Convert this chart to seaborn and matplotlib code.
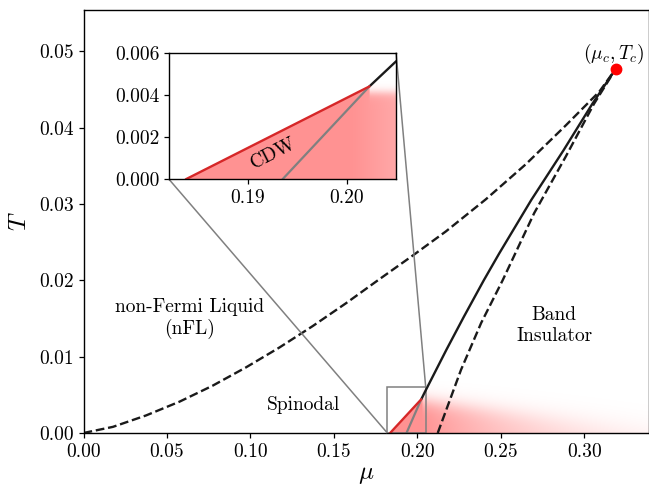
import numpy as np
import matplotlib
matplotlib.use('Agg')
import matplotlib.pyplot as plt
import seaborn as sns
from mpl_toolkits.axes_grid1.inset_locator import mark_inset

# crossover nFL -> band insulator (upper dashed)
mu_nfl = [0.0, 0.0176, 0.0375, 0.0575, 0.0774, 0.0974, 0.1174, 0.1373, 0.1573,
          0.177, 0.197, 0.2171, 0.241, 0.265, 0.289, 0.309, 0.3189]
T_nfl = [0.0, 0.0008, 0.0023, 0.0041, 0.0062, 0.0086, 0.0112, 0.0140, 0.0170,
         0.0201, 0.0232, 0.0264, 0.0306, 0.0352, 0.0403, 0.0447, 0.0477]

# first order line (solid)
mu_first = [0.2023, 0.2048, 0.2174, 0.2278, 0.2398, 0.2490, 0.2682, 0.2875, 0.3048, 0.3189]
T_first = [0.0044, 0.0055, 0.0109, 0.0152, 0.0200, 0.0235, 0.0305, 0.0370, 0.0431, 0.0477]

# spinodal on insulating side (lower dashed)
mu_spin = [0.2122, 0.2262, 0.2382, 0.2511, 0.2700, 0.2889, 0.3058, 0.3189]
T_spin = [0.0, 0.0083, 0.0144, 0.0200, 0.0288, 0.0362, 0.0431, 0.0477]

# CDW boundary (red) and metallic spinodal (grey)
mu_cdw = [0.1837, 0.2023]
T_cdw = [0.0, 0.0044]
mu_spin2 = [0.1935, 0.2023]
T_spin2 = [0.0, 0.0044]

mu_c, T_c = 0.3189, 0.0477

xmax, ymax = 0.3385, 0.0554
zoom_x = (0.182, 0.205)
zoom_y = (0.0, 0.006)

sns.set_theme(style='ticks')
plt.rcParams.update({
    'font.family': ['cmr10', 'DejaVu Serif'],
    'mathtext.fontset': 'cm',
    'axes.formatter.use_mathtext': True,
    'axes.unicode_minus': False,
    'text.color': 'black',
    'axes.labelcolor': 'black',
    'axes.edgecolor': 'black',
    'axes.linewidth': 1.0,
    'xtick.color': 'black',
    'ytick.color': 'black',
    'xtick.major.size': 3.5,
    'ytick.major.size': 3.5,
    'xtick.major.width': 0.9,
    'ytick.major.width': 0.9,
    'xtick.labelsize': 14,
    'ytick.labelsize': 14,
})


def cdw_alpha(M, TT, a0, inset=False):
    # red shading: solid under the CDW line, fading out on the insulating side
    mu0, t0 = mu_cdw[-1], T_cdw[-1]
    t_red = np.interp(M, mu_cdw, T_cdw)
    A = np.where((M <= mu0) & (M >= mu_cdw[0]) & (TT <= t_red), a0, 0.0)
    d = np.clip(M - mu0, 0, None)
    if inset:
        right = a0 / (1 + np.exp((TT - (t0 - 0.0003)) / 0.00012))
    else:
        top = t0 - 0.0002 - 0.03 * d
        s = 0.0006 + 0.004 * d
        right = a0 * np.exp(-d / 0.085) / (1 + np.exp((TT - top) / s))
    A = np.where(M > mu0, right, A)
    if inset:
        A = A * (1 - 0.2 * np.clip((M - 0.2005) / 0.0045, 0, 1))
    rgba = np.zeros(M.shape + (4,))
    rgba[..., 0] = 1.0
    rgba[..., 3] = A
    return rgba


fig = plt.figure(figsize=(6.49, 4.86), dpi=100)
ax = fig.add_axes([0.1287, 0.1091, 0.8706, 0.8704])

M, TT = np.meshgrid(np.linspace(0, xmax, 1000), np.linspace(0, ymax, 600))
ax.imshow(cdw_alpha(M, TT, 0.43), extent=[0, xmax, 0, ymax],
          origin='lower', aspect='auto', interpolation='bilinear', zorder=0)

sns.lineplot(x=mu_nfl, y=T_nfl, ax=ax, color='k', linestyle='--', lw=1.7,
             sort=False, estimator=None)
sns.lineplot(x=mu_first, y=T_first, ax=ax, color='k', lw=1.7, sort=False, estimator=None)
sns.lineplot(x=mu_spin, y=T_spin, ax=ax, color='k', linestyle='--', lw=1.7,
             sort=False, estimator=None)
sns.lineplot(x=mu_spin2, y=T_spin2, ax=ax, color='grey', lw=1.6, sort=False, estimator=None)
sns.lineplot(x=mu_cdw, y=T_cdw, ax=ax, color='#d62728', lw=1.7, sort=False, estimator=None)
ax.plot(mu_c, T_c, 'o', color='red', ms=7.5, zorder=5)

ax.text(0.0635, 0.0150, 'non-Fermi Liquid\n(nFL)', ha='center', va='center', fontsize=14)
ax.text(0.132, 0.0037, 'Spinodal', ha='center', va='center', fontsize=14)
ax.text(0.282, 0.0141, 'Band\nInsulator', ha='center', va='center', fontsize=14)
ax.text(0.3174, 0.0496, r'$(\mu_c, T_c)$', ha='center', va='center', fontsize=14)

ax.set_xlim(0, xmax)
ax.set_ylim(0, ymax)
ax.set_xticks([0.0, 0.05, 0.10, 0.15, 0.20, 0.25, 0.30])
ax.set_yticks([0.0, 0.01, 0.02, 0.03, 0.04, 0.05])
ax.xaxis.set_major_formatter(matplotlib.ticker.FormatStrFormatter('%.2f'))
ax.yaxis.set_major_formatter(matplotlib.ticker.FormatStrFormatter('%.2f'))
ax.set_xlabel(r'$\mu$', fontsize=18, labelpad=2)
ax.set_ylabel(r'$T$', fontsize=18, labelpad=6)

# zoomed inset around the CDW dome
axins = fig.add_axes([0.2604, 0.6311, 0.3498, 0.2605])
Mi, Ti = np.meshgrid(np.linspace(*zoom_x, 300), np.linspace(*zoom_y, 200))
axins.imshow(cdw_alpha(Mi, Ti, 0.43, inset=True),
             extent=[*zoom_x, *zoom_y], origin='lower', aspect='auto',
             interpolation='bilinear', interpolation_stage='rgba', zorder=0)
sns.lineplot(x=mu_first, y=T_first, ax=axins, color='k', lw=1.7, sort=False, estimator=None)
sns.lineplot(x=mu_spin2, y=T_spin2, ax=axins, color='grey', lw=1.6, sort=False, estimator=None)
sns.lineplot(x=mu_cdw, y=T_cdw, ax=axins, color='#d62728', lw=1.7, sort=False, estimator=None)
axins.text(0.1926, 0.0012, 'CDW', ha='center', va='center', rotation=27,
           rotation_mode='anchor', fontsize=14)
axins.set_xlim(*zoom_x)
axins.set_ylim(*zoom_y)
axins.set_xticks([0.19, 0.20])
axins.set_yticks([0.0, 0.002, 0.004, 0.006])
axins.xaxis.set_major_formatter(matplotlib.ticker.FormatStrFormatter('%.2f'))
axins.yaxis.set_major_formatter(matplotlib.ticker.FormatStrFormatter('%.3f'))

mark_inset(ax, axins, loc1=1, loc2=3, fc='none', ec='grey', lw=1.1)

fig.savefig('out.png', dpi=100)
